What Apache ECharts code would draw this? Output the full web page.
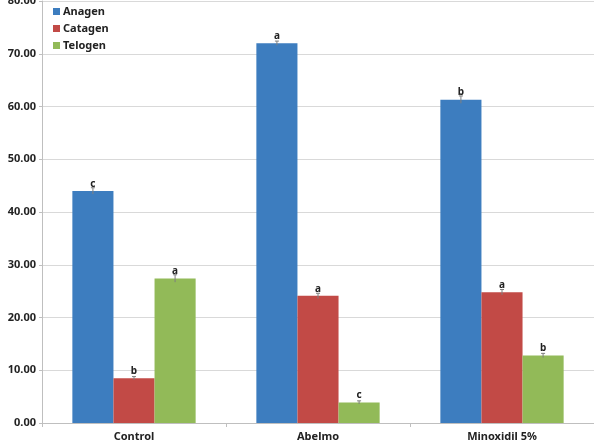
<!DOCTYPE html>
<html>
<head>
<meta charset="utf-8">
<script src="https://cdn.jsdelivr.net/npm/echarts@6/dist/echarts.min.js"></script>
<style>
html, body { margin: 0; padding: 0; background: #fff; }
#main { width: 594px; height: 448px; }
</style>
</head>
<body>
<div id="main"></div>
<script>
var categories = ['Control', 'Abelmo', 'Minoxidil 5%'];
var anagen = [44.0, 72.0, 61.3];
var catagen = [8.5, 24.1, 24.8];
var telogen = [27.4, 3.9, 12.8];
// error bar half-widths and significance letters
var anagenErr = [0.6, 0.4, 0.7];
var catagenErr = [0.3, 0.5, 0.5];
var telogenErr = [0.7, 0.3, 0.4];
var anagenSig = ['c', 'a', 'b'];
var catagenSig = ['b', 'a', 'a'];
var telogenSig = ['a', 'c', 'b'];
var yTicks = [0, 10, 20, 30, 40, 50, 60, 70, 80];

var font = '"Noto Sans", "DejaVu Sans", sans-serif';

function barSeries(name, data, color, sig) {
    return {
        name: name,
        type: 'bar',
        data: data,
        barGap: '0%',
        barCategoryGap: '33%',
        itemStyle: { color: color },
        label: {
            show: true,
            position: 'top',
            distance: 2,
            fontFamily: font,
            fontWeight: 'bold',
            fontSize: 10,
            color: '#222',
            formatter: function (p) { return sig[p.dataIndex]; }
        }
    };
}

// small error caps drawn on top of each bar
function errSeries(data, err, idx) {
    return {
        type: 'custom',
        silent: true,
        z: 5,
        data: data.map(function (v, i) { return [i, v - err[i], v + err[i]]; }),
        renderItem: function (params, api) {
            var bw = api.size([1, 0])[0] * 0.67 / 3;
            var c = api.coord([api.value(0), api.value(2)]);
            var lo = api.coord([api.value(0), api.value(1)]);
            var x = c[0] + (idx - 1) * bw;
            return {
                type: 'group',
                children: [
                    { type: 'line', shape: { x1: x, y1: c[1], x2: x, y2: lo[1] }, style: { stroke: '#7f7f7f', lineWidth: 1 } },
                    { type: 'line', shape: { x1: x - 2, y1: c[1], x2: x + 2, y2: c[1] }, style: { stroke: '#7f7f7f', lineWidth: 1 } }
                ]
            };
        }
    };
}

var myChart = echarts.init(document.getElementById('main'));
myChart.setOption({
    animation: false,
    grid: { left: 42, right: 0, top: 1, bottom: 25, outerBoundsMode: 'none' },
    legend: {
        data: ['Anagen', 'Catagen', 'Telogen'],
        orient: 'vertical',
        left: 48,
        top: 1,
        itemWidth: 7,
        itemHeight: 7,
        itemGap: 6,
        icon: 'rect',
        textStyle: { fontFamily: font, fontWeight: 'bold', fontSize: 11, color: '#222', padding: [0, 0, 0, -2] }
    },
    xAxis: {
        type: 'category',
        data: categories,
        axisLine: { lineStyle: { color: '#bfbfbf' } },
        axisTick: { show: true, length: 4, lineStyle: { color: '#bfbfbf' } },
        axisLabel: { fontFamily: font, fontWeight: 'bold', fontSize: 11, color: '#222', margin: 8 }
    },
    yAxis: {
        type: 'value',
        min: 0,
        max: 80,
        interval: 10,
        axisLine: { show: true, lineStyle: { color: '#bfbfbf' } },
        axisTick: { show: true, length: 3, lineStyle: { color: '#bfbfbf' } },
        splitLine: { lineStyle: { color: '#d9d9d9' } },
        axisLabel: {
            fontFamily: font, fontWeight: 'bold', fontSize: 11, color: '#222', margin: 6,
            formatter: function (v) { return v.toFixed(2); }
        }
    },
    series: [
        barSeries('Anagen', anagen, '#3D7DBF', anagenSig),
        barSeries('Catagen', catagen, '#C24A46', catagenSig),
        barSeries('Telogen', telogen, '#92BA58', telogenSig),
        errSeries(anagen, anagenErr, 0),
        errSeries(catagen, catagenErr, 1),
        errSeries(telogen, telogenErr, 2)
    ]
});
</script>
</body>
</html>
